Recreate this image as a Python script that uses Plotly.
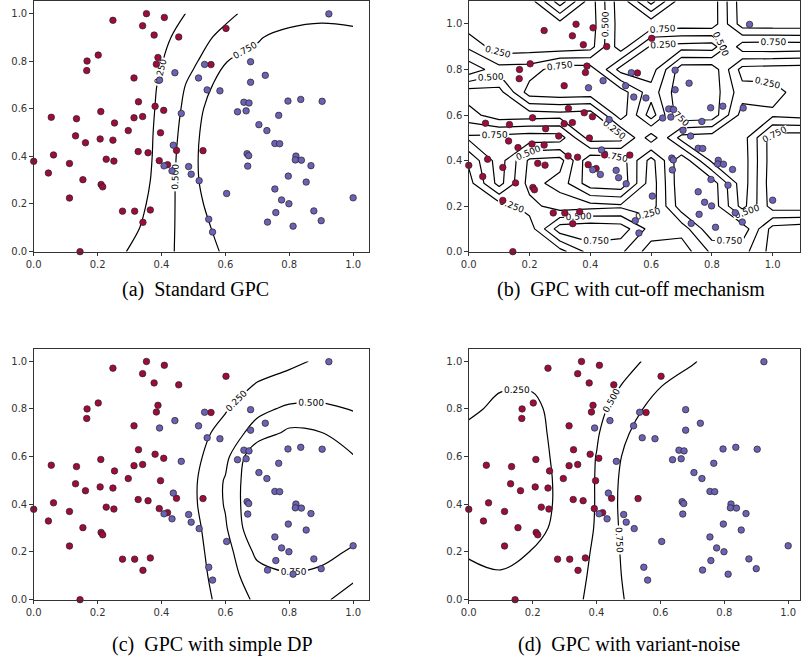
import plotly.graph_objects as go

# ---- sample points (shared by all four classifiers) ----
red_x = [0.248, 0.353, 0.409, 0.341, 0.377, 0.454, 0.202, 0.167, 0.166, 0.389,
         0.384, 0.314, 0.328, 0.380, 0.407, 0.055, 0.134, 0.210, 0.314, 0.341,
         0.253, 0.296, 0.397, 0.131, 0.208, 0.248, 0.162, 0.000, 0.062, 0.112,
         0.046, 0.154, 0.227, 0.251, 0.327, 0.358, 0.211, 0.216, 0.112, 0.278,
         0.316, 0.365, 0.342, 0.145, 0.393, 0.419, 0.447, 0.530, 0.555, 0.602]
red_y = [0.971, 0.999, 0.983, 0.948, 0.909, 0.901, 0.825, 0.800, 0.760, 0.815,
         0.787, 0.729, 0.629, 0.610, 0.593, 0.564, 0.558, 0.588, 0.562, 0.567,
         0.540, 0.508, 0.499, 0.486, 0.473, 0.468, 0.457, 0.379, 0.406, 0.370,
         0.330, 0.302, 0.388, 0.380, 0.420, 0.415, 0.282, 0.272, 0.225, 0.170,
         0.170, 0.175, 0.123, 0.000, 0.382, 0.365, 0.425, 0.424, 0.785, 0.937]
blue_x = [0.394, 0.442, 0.462, 0.437, 0.408, 0.433, 0.485, 0.493, 0.518, 0.535,
          0.924, 0.516, 0.679, 0.725, 0.679, 0.543, 0.583, 0.658, 0.674, 0.638,
          0.665, 0.796, 0.836, 0.903, 0.767, 0.705, 0.730, 0.755, 0.770, 0.668,
          0.673, 0.670, 0.821, 0.819, 0.838, 0.868, 0.797, 0.853, 0.604, 0.755,
          0.776, 0.799, 1.000, 0.758, 0.877, 0.732, 0.900, 0.812, 0.548, 0.560]
blue_y = [0.720, 0.751, 0.580, 0.447, 0.360, 0.339, 0.357, 0.325, 0.298, 0.786,
          0.998, 0.729, 0.797, 0.740, 0.711, 0.679, 0.675, 0.627, 0.624, 0.587,
          0.591, 0.632, 0.639, 0.631, 0.572, 0.533, 0.508, 0.454, 0.453, 0.411,
          0.403, 0.359, 0.401, 0.385, 0.384, 0.361, 0.317, 0.292, 0.244, 0.263,
          0.217, 0.201, 0.226, 0.164, 0.171, 0.124, 0.130, 0.107, 0.136, 0.082]

# ---- predicted class probability grids ----
grid_10 = [0.0, 0.1, 0.2, 0.3, 0.4, 0.5, 0.6, 0.7, 0.8, 0.9, 1.0]
grid_11 = [0.0, 0.1, 0.2, 0.3, 0.4, 0.5, 0.6, 0.7, 0.8, 0.9, 1.0, 1.1]

# (a) standard GPC, rows from y=0 to y=1
prob_standard = [
    [0.02, 0.04, 0.07, 0.27, 0.42, 0.62, 0.78, 0.85, 0.88, 0.90, 0.92],
    [0.02, 0.05, 0.11, 0.18, 0.40, 0.64, 0.84, 0.88, 0.90, 0.92, 0.93],
    [0.02, 0.05, 0.09, 0.13, 0.36, 0.69, 0.88, 0.90, 0.91, 0.92, 0.93],
    [0.02, 0.04, 0.07, 0.10, 0.33, 0.725, 0.87, 0.90, 0.91, 0.92, 0.93],
    [0.02, 0.04, 0.08, 0.128, 0.30, 0.735, 0.835, 0.88, 0.90, 0.91, 0.92],
    [0.02, 0.05, 0.10, 0.165, 0.28, 0.703, 0.938, 0.93, 0.92, 0.92, 0.92],
    [0.03, 0.07, 0.14, 0.212, 0.26, 0.653, 0.956, 0.95, 0.94, 0.93, 0.92],
    [0.03, 0.06, 0.10, 0.127, 0.27, 0.577, 0.865, 0.92, 0.93, 0.92, 0.90],
    [0.03, 0.06, 0.12, 0.18, 0.24, 0.46, 0.74, 0.84, 0.90, 0.90, 0.88],
    [0.03, 0.06, 0.10, 0.15, 0.20, 0.367, 0.589, 0.72, 0.87, 0.88, 0.85],
    [0.03, 0.06, 0.10, 0.14, 0.18, 0.273, 0.42, 0.62, 0.57, 0.66, 0.63],
]

# (b) GPC with cut-off mechanism, rows from y=0 to y=1.1
prob_cutoff = [
    [0.05, 0.08, 0.10, 0.15, 0.60, 0.55, 0.12, 0.10, 0.55, 0.60, 0.15, 0.10],
    [0.05, 0.10, 0.12, 0.90, 0.95, 0.90, 0.40, 0.35, 0.95, 0.92, 0.15, 0.08],
    [0.08, 0.12, 0.35, 0.10, 0.15, 0.20, 0.12, 0.90, 0.92, 0.15, 0.88, 0.90],
    [0.15, 0.85, 0.15, 0.35, 0.90, 0.95, 0.10, 0.95, 0.90, 0.10, 0.92, 0.95],
    [0.30, 0.88, 0.20, 0.15, 0.95, 0.90, 0.15, 0.95, 0.20, 0.10, 0.90, 0.95],
    [0.80, 0.85, 0.90, 0.88, 0.12, 0.15, 0.90, 0.15, 0.10, 0.12, 0.90, 0.92],
    [0.35, 0.10, 0.12, 0.15, 0.10, 0.90, 0.12, 0.95, 0.92, 0.15, 0.20, 0.15],
    [0.12, 0.15, 0.88, 0.92, 0.90, 0.88, 0.35, 0.95, 0.90, 0.35, 0.35, 0.12],
    [0.92, 0.60, 0.62, 0.90, 0.88, 0.15, 0.12, 0.90, 0.92, 0.15, 0.12, 0.10],
    [0.45, 0.10, 0.12, 0.10, 0.15, 0.90, 0.20, 0.15, 0.12, 0.90, 0.92, 0.90],
    [0.10, 0.12, 0.10, 0.15, 0.10, 0.90, 0.92, 0.88, 0.90, 0.12, 0.10, 0.10],
    [0.10, 0.10, 0.12, 0.90, 0.12, 0.92, 0.15, 0.90, 0.90, 0.10, 0.10, 0.10],
]

# (c) GPC with simple DP
prob_dp = [
    [0.01, 0.02, 0.03, 0.05, 0.08, 0.12, 0.34, 0.545, 0.62, 0.55, 0.383],
    [0.01, 0.02, 0.04, 0.06, 0.10, 0.14, 0.384, 0.642, 0.73, 0.70, 0.55],
    [0.01, 0.03, 0.05, 0.08, 0.12, 0.171, 0.396, 0.8125, 0.86, 0.82, 0.72],
    [0.01, 0.03, 0.05, 0.08, 0.12, 0.177, 0.47, 0.98, 0.98, 0.95, 0.84],
    [0.01, 0.03, 0.05, 0.09, 0.14, 0.21, 0.52, 1.00, 0.99, 0.97, 0.90],
    [0.01, 0.03, 0.05, 0.09, 0.14, 0.21, 0.52, 0.99, 0.99, 0.97, 0.90],
    [0.01, 0.03, 0.05, 0.08, 0.12, 0.18, 0.431, 0.963, 0.97, 0.90, 0.76],
    [0.01, 0.02, 0.04, 0.06, 0.10, 0.15, 0.332, 0.612, 0.80, 0.755, 0.65],
    [0.01, 0.02, 0.04, 0.06, 0.09, 0.14, 0.23, 0.43, 0.55, 0.56, 0.485],
    [0.01, 0.02, 0.03, 0.05, 0.08, 0.11, 0.18, 0.26, 0.30, 0.32, 0.30],
    [0.01, 0.02, 0.03, 0.04, 0.06, 0.09, 0.13, 0.18, 0.223, 0.268, 0.27],
]

# (d) GPC with variant-noise
prob_noise = [
    [0.30, 0.29, 0.31, 0.40, 0.572, 0.777, 0.84, 0.88, 0.90, 0.92, 0.93],
    [0.32, 0.26, 0.29, 0.37, 0.556, 0.805, 0.87, 0.90, 0.92, 0.93, 0.94],
    [0.22, 0.22, 0.255, 0.35, 0.5375, 0.8286, 0.88, 0.90, 0.92, 0.93, 0.94],
    [0.18, 0.16, 0.204, 0.30, 0.52, 0.853, 0.90, 0.92, 0.93, 0.94, 0.95],
    [0.16, 0.14, 0.185, 0.29, 0.513, 0.872, 0.92, 0.93, 0.94, 0.95, 0.95],
    [0.16, 0.14, 0.185, 0.29, 0.513, 0.86, 0.92, 0.93, 0.94, 0.95, 0.95],
    [0.17, 0.15, 0.191, 0.30, 0.506, 0.819, 0.90, 0.92, 0.93, 0.94, 0.95],
    [0.20, 0.17, 0.193, 0.32, 0.475, 0.745, 0.85, 0.90, 0.92, 0.93, 0.94],
    [0.291, 0.20, 0.21, 0.331, 0.42, 0.67, 0.848, 0.90, 0.92, 0.93, 0.94],
    [0.30, 0.271, 0.267, 0.30, 0.333, 0.55, 0.74, 0.85, 0.90, 0.92, 0.93],
    [0.30, 0.30, 0.31, 0.33, 0.37, 0.42, 0.62, 0.73, 0.863, 0.90, 0.92],
]

tick_vals = [0.0, 0.2, 0.4, 0.6, 0.8, 1.0]
tick_text = ["0.0", "0.2", "0.4", "0.6", "0.8", "1.0"]
captions = ["(a)  Standard GPC", "(b)  GPC with cut-off mechanism",
            "(c)  GPC with simple DP", "(d)  GPC with variant-noise"]

RED = "#a00b3d"
BLUE = "#6b62b5"
W, H = 801, 668

fig = go.Figure()

panels = [
    # grid, z, smoothing, x-range, y-range, pixel box (left, right, top, bottom)
    (grid_10, grid_10, prob_standard, 1.0, [0, 1.05], [0, 1.05], (26, 365.2, 0.5, 253.3)),
    (grid_11, grid_11, prob_cutoff, 0.0, [0, 1.090], [0, 1.101], (466, 801, 0.0, 253.3)),
    (grid_10, grid_10, prob_dp, 1.0, [0, 1.05], [0, 1.05], (26, 365.2, 352.0, 605.0)),
    (grid_10, grid_10, prob_noise, 1.0, [0, 1.037], [0, 1.05], (466, 801, 352.0, 605.0)),
]

layout_axes = {}
for k, (gx, gy, z, smooth, xr, yr, box) in enumerate(panels):
    n = "" if k == 0 else str(k + 1)
    xa, ya = "x" + n, "y" + n
    fig.add_trace(go.Contour(
        x=gx, y=gy, z=z, xaxis=xa, yaxis=ya,
        contours=dict(coloring="lines", start=0.25, end=0.75, size=0.25,
                      showlabels=True,
                      labelfont=dict(family="DejaVu Sans", size=9, color="black"),
                      labelformat=".3f"),
        colorscale=[[0, "black"], [1, "black"]],
        line=dict(width=1.2, smoothing=smooth),
        showscale=False, hoverinfo="skip"))
    fig.add_trace(go.Scatter(
        x=red_x, y=red_y, mode="markers", xaxis=xa, yaxis=ya, cliponaxis=False,
        marker=dict(size=6.5, color=RED, line=dict(color="#222", width=0.7)),
        showlegend=False))
    fig.add_trace(go.Scatter(
        x=blue_x, y=blue_y, mode="markers", xaxis=xa, yaxis=ya, cliponaxis=False,
        marker=dict(size=6.5, color=BLUE, line=dict(color="#222", width=0.7)),
        showlegend=False))
    left, right, top, bottom = box
    axis_common = dict(showgrid=False, zeroline=False, showline=True, mirror=True,
                       linecolor="#333", linewidth=1, ticks="outside", ticklen=3.5,
                       tickwidth=0.8, tickcolor="#333", tickvals=tick_vals,
                       ticktext=tick_text,
                       tickfont=dict(family="DejaVu Sans", size=10, color="#333"))
    layout_axes["xaxis" + n] = dict(axis_common, range=xr,
                                    domain=[left / W, right / W],
                                    anchor=ya)
    layout_axes["yaxis" + n] = dict(axis_common, range=yr,
                                    domain=[1 - bottom / H, 1 - top / H],
                                    anchor=xa)

fig.update_layout(**layout_axes)

cap_pos = [(190, 292), (630, 292), (207, 650), (628, 650)]
for text, (cx, cy) in zip(captions, cap_pos):
    fig.add_annotation(x=cx / W, y=1 - cy / H, xref="paper", yref="paper",
                       text=text, showarrow=False, xanchor="center", yanchor="middle",
                       font=dict(family="Liberation Serif", size=20, color="black"))

fig.update_layout(width=W, height=H, margin=dict(l=0, r=0, t=0, b=0),
                  paper_bgcolor="white", plot_bgcolor="white", showlegend=False)

fig.write_html("out.html")
